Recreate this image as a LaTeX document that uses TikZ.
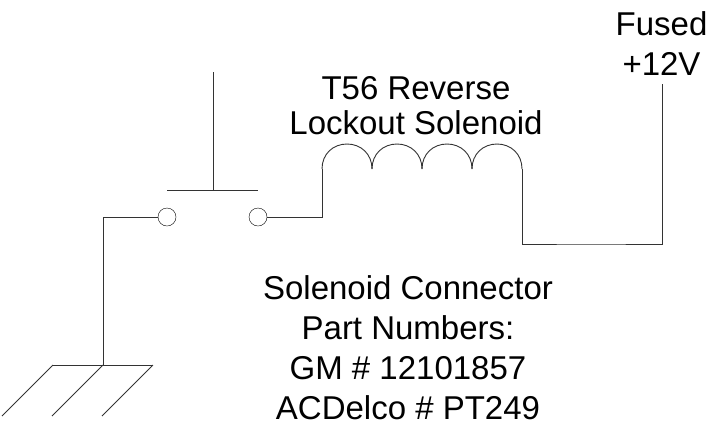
\documentclass[tikz,border=0pt]{standalone}
\usepackage{fontspec}
\setmainfont{Liberation Sans}
\tikzset{terminal/.style={circle, draw=black, minimum size=18pt, inner sep=0pt, outer sep=0pt},
wire/.style={draw=black!80, line width=0.9pt},
label/.style={align=center, inner sep=0pt, font=\fontsize{33}{#1}\selectfont},
label/.default={37}}

\begin{document}
\begin{tikzpicture}[x=1pt,y=-1pt]
\useasboundingbox (0,0) rectangle (708,429);

% switch
\node[terminal] (contactL) at (167,217) {};
\node[terminal] (contactR) at (258,217) {};
\coordinate (plungerTop) at (213,72);
\coordinate (plungerBase) at (213,190);
\draw[wire] (plungerTop) -- (plungerBase);
\draw[wire] (contactL |- plungerBase) -- (contactR |- plungerBase);

% ground
\coordinate (gndTop) at (103,365);
\draw[wire] (contactL.west) -| (gndTop);
\draw[wire] (53,365) -- (153,365);
\foreach \x in {53,103,153}
     \draw[wire] (\x,365) -- (\x-51,416);

% coil
\coordinate (coilStart) at (322,169);
\coordinate (coilEnd) at (522,169);
\coordinate (fuseEnd) at (662,84);
\draw[wire] (contactR.east) -| (coilStart);
\foreach \x in {322,372,422,472}
     \draw[wire] (\x,169) .. controls (\x,154) and (\x+11,144) .. (\x+25,144)
                 .. controls (\x+39,144) and (\x+50,154) .. (\x+50,169);
\draw[wire] (coilEnd) |- (590,244) -| (fuseEnd);

%labels
\node[label=40] (fused) at (661.5,43.5) {Fused\\+12V};
\node[label=35] (coilName) at (416,106) {T56 Reverse\\Lockout Solenoid};
\node[label=40] (partNumbers) at (408,348) {Solenoid Connector\\Part Numbers:\\GM \# 12101857\\ACDelco \# PT249};
\end{tikzpicture}
\end{document}
